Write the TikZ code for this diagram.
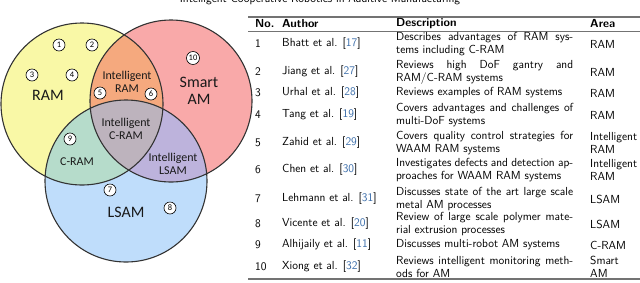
\documentclass[tikz,border=0pt]{standalone}
\usepackage{fontspec}
\newfontfamily\venn{Carlito}
\definecolor{cyel}{HTML}{F9F8A6}
\definecolor{cred}{HTML}{F9A9A9}
\definecolor{cblu}{HTML}{BFDDFB}
\definecolor{corg}{HTML}{F5A97E}
\definecolor{cgrn}{HTML}{B6DCCB}
\definecolor{cpur}{HTML}{BDB3DC}
\definecolor{cgry}{HTML}{BDB3BD}
\definecolor{cref}{RGB}{60,110,170}
\definecolor{cline}{HTML}{333333}
\newcommand{\cit}[1]{[\textcolor{cref}{#1}]}
\newcommand{\jline}[1]{\makebox[177bp][s]{#1}}
\begin{document}
\begin{tikzpicture}[x=1bp,y=-1bp,
  numc/.style={circle,draw=black,fill=white,line width=0.6bp,inner sep=0pt,minimum size=12bp,font=\venn\fontsize{8.5}{9}\selectfont},
  biglab/.style={font=\venn\fontsize{16}{17}\selectfont,align=center,inner sep=0pt,text=black!90},
  smlab/.style={font=\venn\fontsize{12}{12.5}\selectfont,align=center,inner sep=0pt,text=black!90},
  tab/.style={font=\sffamily\fontsize{11.7}{13}\selectfont,anchor=west,inner sep=0pt,align=left},
  tabh/.style={tab,font=\sffamily\bfseries\fontsize{11.7}{13}\selectfont},
  rulethick/.style={line width=1.2bp,draw=black!55},
  rulethin/.style={line width=0.7bp,draw=black!55},
  venncirc/.style={line width=1.1bp,draw=cline}
]
\useasboundingbox (0,0) rectangle (640,282);
% title (cut off at top)
\node[font=\sffamily\fontsize{11.7}{13}\selectfont,anchor=base,inner sep=0pt] (title) at (320,2.5) {Intelligent Cooperative Robotics in Additive Manufacturing};
% Venn
\coordinate (Y) at (82,104);
\coordinate (R) at (171,101);
\coordinate (B) at (126,181);
\fill[cyel] (Y) circle[radius=81bp];
\fill[cred] (R) circle[radius=81bp];
\fill[cblu] (B) circle[radius=81bp];
\begin{scope}
  \clip (Y) circle[radius=81bp];
  \fill[corg] (R) circle[radius=81bp];
  \fill[cgrn] (B) circle[radius=81bp];
\end{scope}
\begin{scope}
  \clip (R) circle[radius=81bp];
  \fill[cpur] (B) circle[radius=81bp];
\end{scope}
\begin{scope}
  \clip (Y) circle[radius=81bp];
  \clip (R) circle[radius=81bp];
  \fill[cgry] (B) circle[radius=81bp];
\end{scope}
\draw[venncirc] (Y) circle[radius=81bp];
\draw[venncirc] (R) circle[radius=81bp];
\draw[venncirc] (B) circle[radius=81bp];
% region labels
\node[biglab] (lram) at (48,95) {RAM};
\node[biglab] (lsmart) at (199,91) {Smart\\AM};
\node[biglab] (llsam) at (126,212) {LSAM};
\node[smlab] (liram) at (127,82) {Intelligent\\RAM};
\node[smlab] (licram) at (126,129) {Intelligent\\C-RAM};
\node[smlab] (lcram) at (77,162) {C-RAM};
\node[smlab] (lilsam) at (173,164) {Intelligent\\LSAM};
% numbers
\node[numc] (n1) at (59,45) {1};
\node[numc] (n2) at (92,45) {2};
\node[numc] (n3) at (32,75) {3};
\node[numc] (n4) at (72,75) {4};
\node[numc] (n5) at (100,93) {5};
\node[numc] (n6) at (151,94) {6};
\node[numc] (n7) at (110,190) {7};
\node[numc] (n8) at (170,208) {8};
\node[numc] (n9) at (70,139) {9};
\node[numc,minimum size=13bp] (n10) at (193,58) {10};
% table rules
\coordinate (tl) at (248,17);
\coordinate (tr) at (640,17);
\coordinate (ml) at (248,31);
\coordinate (mr) at (640,31);
\coordinate (bl) at (248,279);
\coordinate (br) at (640,279);
\draw[rulethick] (tl) -- (tr);
\draw[rulethin] (ml) -- (mr);
\draw[rulethick] (bl) -- (br);
% header
\node[tabh] (hno) at (255,24) {No.};
\node[tabh] (hau) at (282,24) {Author};
\node[tabh] (hde) at (396,24) {Description};
\node[tabh] (har) at (590,24) {Area};
% rows
\node[tab] (r1n) at (255,44) {1};
\node[tab] (r1a) at (282,44) {Bhatt et al. \cit{17}};
\node[tab] (r1d) at (396,44) {\jline{Describes advantages of RAM sys-}\\tems including C-RAM};
\node[tab] (r1r) at (590,44) {RAM};

\node[tab] (r2n) at (255,72) {2};
\node[tab] (r2a) at (282,72) {Jiang et al. \cit{27}};
\node[tab] (r2d) at (396,72) {\jline{Reviews high DoF gantry and}\\RAM/C-RAM systems};
\node[tab] (r2r) at (590,72) {RAM};

\node[tab] (r3n) at (255,93) {3};
\node[tab] (r3a) at (282,93) {Urhal et al. \cit{28}};
\node[tab] (r3d) at (396,93) {Reviews examples of RAM systems};
\node[tab] (r3r) at (590,93) {RAM};

\node[tab] (r4n) at (255,115) {4};
\node[tab] (r4a) at (282,115) {Tang et al. \cit{19}};
\node[tab] (r4d) at (396,115) {\jline{Covers advantages and challenges of}\\multi-DoF systems};
\node[tab] (r4r) at (590,115) {RAM};

\node[tab] (r5n) at (255,143) {5};
\node[tab] (r5a) at (282,143) {Zahid et al. \cit{29}};
\node[tab] (r5d) at (396,143) {\jline{Covers quality control strategies for}\\WAAM RAM systems};
\node[tab] (r5r) at (590,143) {Intelligent\\RAM};

\node[tab] (r6n) at (255,170) {6};
\node[tab] (r6a) at (282,170) {Chen et al. \cit{30}};
\node[tab] (r6d) at (396,170) {\jline{Investigates defects and detection ap-}\\proaches for WAAM RAM systems};
\node[tab] (r6r) at (590,170) {Intelligent\\RAM};

\node[tab] (r7n) at (255,199) {7};
\node[tab] (r7a) at (282,199) {Lehmann et al. \cit{31}};
\node[tab] (r7d) at (396,199) {\jline{Discusses state of the art large scale}\\metal AM processes};
\node[tab] (r7r) at (590,199) {LSAM};

\node[tab] (r8n) at (255,224) {8};
\node[tab] (r8a) at (282,224) {Vicente et al. \cit{20}};
\node[tab] (r8d) at (396,224) {\jline{Review of large scale polymer mate-}\\rial extrusion processes};
\node[tab] (r8r) at (590,224) {LSAM};

\node[tab] (r9n) at (255,245) {9};
\node[tab] (r9a) at (282,245) {Alhijaily et al. \cit{11}};
\node[tab] (r9d) at (396,245) {Discusses multi-robot AM systems};
\node[tab] (r9r) at (590,245) {C-RAM};

\node[tab] (r10n) at (255,267) {10};
\node[tab] (r10a) at (282,267) {Xiong et al. \cit{32}};
\node[tab] (r10d) at (396,267) {\jline{Reviews intelligent monitoring meth-}\\ods for AM};
\node[tab] (r10r) at (590,267) {Smart\\AM};
\end{tikzpicture}
\end{document}
